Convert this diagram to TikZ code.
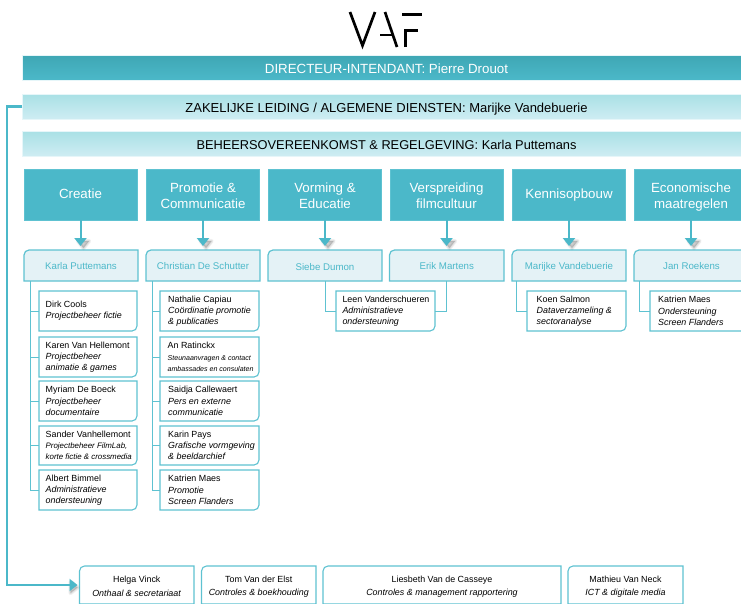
\documentclass[tikz,border=0pt]{standalone}
\usepackage{fontspec}
\setmainfont{Liberation Sans}
\usetikzlibrary{arrows.meta}
\definecolor{vafdark}{HTML}{3FA7B4}
\definecolor{vafteal}{HTML}{4BB8C9}
\definecolor{vafline}{HTML}{5EC2D1}
\definecolor{vafpale}{HTML}{A9E0E5}
\definecolor{vafmist}{HTML}{CEEDF3}
\definecolor{vafsub}{HTML}{E4F2F6}
\tikzset{
	banner/.style={minimum width=728,minimum height=25,inner sep=0,draw=vafmist!50,text height=11,text depth=0,font=\fontsize{13}{15}\selectfont},
	darkbanner/.style={banner,top color=vafdark,bottom color=vafteal,text=white,font=\fontsize{13.3}{15}\selectfont},
	palebanner/.style={banner,top color=vafpale,bottom color=vafmist,text=black},
	headbox/.style={minimum width=113,minimum height=51,inner sep=0,fill=vafteal,draw=vafline,text=white,align=center,text height=8.5,text depth=0,font=\fontsize{13.3}{16}\selectfont},
	headtwo/.style={headbox,text height=27.5},
	cornerbody/.style={inner sep=0,outer sep=0},
	subline/.style={draw=vafline,line width=1.2pt,fill=vafsub},
	staffline/.style={draw=vafline,line width=1.1pt,fill=white},
	subtext/.style={inner sep=0,text=vafteal,text height=7.2,text depth=0,font=\fontsize{9.7}{12}\selectfont},
	stafftext/.style={inner sep=0,align=left,text=black,font=\fontsize{8.9}{11.2}\selectfont},
	basetext/.style={inner sep=0,align=center,text=black,font=\fontsize{8.9}{13.5}\selectfont},
	branch/.style={draw=vafline,line width=.9pt},
	downarrow/.style={draw=vafteal,line width=2pt,-{Triangle[width=12,length=8]},shorten >=4},
	mainline/.style={draw=vafteal,line width=2.4pt,line join=miter,-{Triangle[width=12,length=8]},shorten >=2},
	tipshadow/.style={fill=black,draw=black,line join=round,opacity=.035},
	logoline/.style={draw=black,line width=2.7pt}
}
\newcommand{\role}[1]{\textit{#1}}
\newcommand{\smallrole}[1]{{\fontsize{7.9}{11.2}\selectfont\textit{#1}}}
\newcommand{\tinyrole}[1]{{\fontsize{7.05}{11.2}\selectfont\textit{#1}}}
% name, left, right, text
\newcommand{\subbox}[4]{
	\node[cornerbody,minimum width={(#3-#2)*1pt},minimum height=31] (#1) at ({(#2+#3)/2},265.5) {};
	\path[subline] (#1.south west) [rounded corners=5] -- (#1.north west) [sharp corners] -- (#1.north east) -- (#1.south east) -- cycle;
	\node[subtext] (#1text) at (#1.center) {#4};
}
% name, left, top, right, bottom, inset, text
\newcommand{\staffbox}[7]{
	\node[cornerbody,minimum width={(#4-#2)*1pt},minimum height={(#5-#3)*1pt}] (#1) at ({(#2+#4)/2},{(#3+#5)/2}) {};
	\path[staffline] (#1.north west) -- (#1.north east) [rounded corners=5] -- (#1.south east) [sharp corners] -- (#1.south west) -- cycle;
	\node[stafftext,anchor=west] (#1text) at ([xshift=#6]#1.west) {#7};
}
% name, left, right, text
\newcommand{\basebox}[4]{
	\node[cornerbody,minimum width={(#3-#2)*1pt},minimum height=38] (#1) at ({(#2+#3)/2},585) {};
	\path[staffline] (#1.south west) [rounded corners=5] -- (#1.north west) [sharp corners] -- (#1.north east) -- (#1.south east) -- cycle;
	\node[basetext] (#1text) at ([yshift=-1.5]#1.center) {#4};
}
\begin{document}
\begin{tikzpicture}[x=1pt,y=-1pt,>=stealth]
	\clip (0,0) rectangle (741,603);
	% logo
	\draw[logoline] (350,12)--(362.5,45.5)--(375,12);
	\draw[logoline] (385,12)--(397,47);
	\draw[logoline] (380,35)--(392,35);
	\draw[logoline,line width=3pt] (402,14)--(422,14);
	\draw[logoline,line width=3pt] (405,47)--(405,30.5)--(418,30.5);
	% banners
	\node[darkbanner] (directeur) at (386.5,67.5) {DIRECTEUR-INTENDANT: Pierre Drouot};
	\node[palebanner] (zakelijk) at (386.5,106.5) {ZAKELIJKE LEIDING / ALGEMENE DIENSTEN: Marijke Vandebuerie};
	\node[palebanner,font=\fontsize{12.8}{15}\selectfont] (beheer) at (386.5,143.5) {BEHEERSOVEREENKOMST \& REGELGEVING: Karla Puttemans};
	% departments
	\node[headbox] (creatie) at (80.5,194.5) {Creatie};
	\node[headtwo] (promotie) at (203,194.5) {Promotie \&\\Communicatie};
	\node[headtwo] (vorming) at (325,194.5) {Vorming \&\\Educatie};
	\node[headtwo] (verspreiding) at (446.5,194.5) {Verspreiding\\filmcultuur};
	\node[headbox] (kennis) at (569,194.5) {Kennisopbouw};
	\node[headtwo] (economie) at (691,194.5) {Economische\\maatregelen};
	% heads of department
	\subbox{karla}{24}{138}{Karla Puttemans}
	\subbox{christian}{146}{260}{Christian De Schutter}
	\subbox{siebe}{268}{382}{\raisebox{-1pt}{Siebe Dumon}}
	\subbox{erik}{389.5}{504}{Erik Martens}
	\subbox{marijke}{512}{626}{Marijke Vandebuerie}
	\subbox{jan}{634}{749}{Jan Roekens}
	\foreach \a/\b in {creatie/karla,promotie/christian,vorming/siebe,verspreiding/erik,kennis/marijke,economie/jan}{
		\foreach \w in {.5,1.5,2.5,3.5,4.5}
			\path[tipshadow,line width=\w] (\a.south |- \b.north) ++(-2.5,-9) -- ++(11,0) -- ++(-5.5,7) -- cycle;
		\draw[downarrow] (\a.south) -- (\a.south |- \b.north);
	}
	% staff
	\staffbox{dirk}{39}{291}{137}{331}{6.5}{Dirk Cools\\\role{Projectbeheer fictie}}
	\staffbox{karen}{39}{337}{137}{377}{6.5}{Karen Van Hellemont\\\role{Projectbeheer}\\\role{animatie \& games}}
	\staffbox{myriam}{39}{381}{137}{421}{6.5}{Myriam De Boeck\\\role{Projectbeheer}\\\role{documentaire}}
	\staffbox{sander}{39}{426}{137}{465}{6.5}{Sander Vanhellemont\\\smallrole{Projectbeheer FilmLab,}\\\smallrole{korte fictie \& crossmedia}}
	\staffbox{albert}{39}{470}{137}{510}{6.5}{Albert Bimmel\\\role{Administratieve}\\\role{ondersteuning}}
	\staffbox{nathalie}{160}{291}{259}{331}{8}{Nathalie Capiau\\\role{Coördinatie promotie}\\\role{\& publicaties}}
	\staffbox{an}{160}{337}{259}{377}{7.5}{An Ratinckx\\\tinyrole{Steunaanvragen \& contact}\\\tinyrole{ambassades en consulaten}}
	\staffbox{saidja}{160}{381}{259}{421}{8}{Saidja Callewaert\\\role{Pers en externe}\\\role{communicatie}}
	\staffbox{karin}{160}{426}{259}{465}{8}{Karin Pays\\\role{Grafische vormgeving}\\\role{\& beeldarchief}}
	\staffbox{katrienp}{160}{470}{259}{510}{8}{Katrien Maes\\\role{Promotie}\\\role{Screen Flanders}}
	\staffbox{leen}{336}{291}{435}{331}{6.3}{Leen Vanderschueren\\\role{Administratieve}\\\role{ondersteuning}}
	\staffbox{koen}{527}{291}{626}{331}{9.5}{Koen Salmon\\\role{Dataverzameling \&}\\\role{sectoranalyse}}
	\staffbox{katriene}{650}{291}{749}{331}{8}{Katrien Maes\\\role{Ondersteuning}\\\role{Screen Flanders}}
	% branches
	\foreach \s in {dirk,karen,myriam,sander,albert}
		\draw[branch] ([xshift=6.5]karla.south west) |- (\s.west);
	\foreach \s in {nathalie,an,saidja,karin,katrienp}
		\draw[branch] ([xshift=6.5]christian.south west) |- (\s.west);
	\draw[branch] (siebe.south) |- (leen.west);
	\draw[branch] (erik.south) |- (leen.east);
	\draw[branch] ([xshift=4.5]marijke.south west) |- (koen.west);
	\draw[branch] ([xshift=5]jan.south west) |- (katriene.west);
	% general services
	\basebox{helga}{79.5}{194}{Helga Vinck\\\role{Onthaal \& secretariaat}}
	\basebox{tom}{201.5}{316}{Tom Van der Elst\\\role{Controles \& boekhouding}}
	\basebox{liesbeth}{323}{561}{Liesbeth Van de Casseye\\\role{Controles \& management rapportering}}
	\basebox{mathieu}{568}{683}{Mathieu Van Neck\\\role{ICT \& digitale media}}
	\foreach \w in {.5,1.5,2.5,3.5,4.5}
		\path[tipshadow,line width=\w] (helga.west) ++(-9,-3) -- ++(0,11) -- ++(7,-5.5) -- cycle;
	\draw[mainline] (zakelijk.west) -- ++(-15.5,0) |- (helga.west);
\end{tikzpicture}
\end{document}
